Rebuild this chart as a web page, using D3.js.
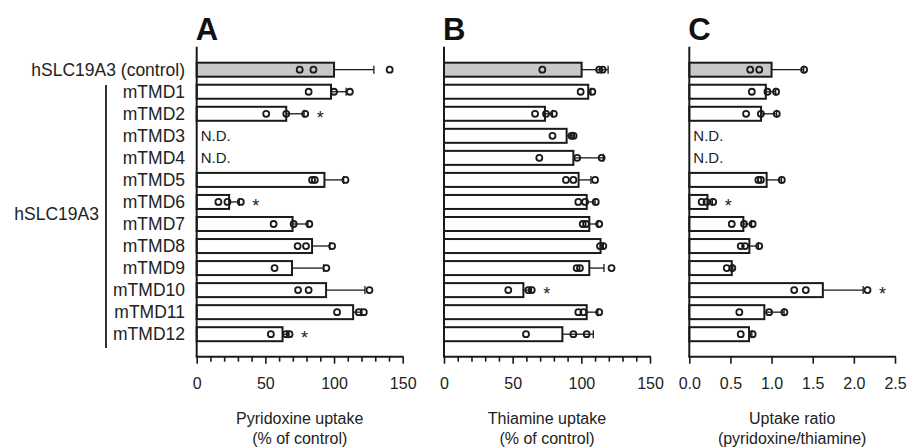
<!DOCTYPE html>
<html>
<head>
<meta charset="utf-8">
<script src="https://cdn.jsdelivr.net/npm/d3@7"></script>
<style>
  body { margin: 0; background: #fff; }
  svg { display: block; font-family: "Liberation Sans", Arial, sans-serif; }
</style>
</head>
<body>
<div id="chart"></div>
<script>
// rows, top to bottom
const rows = ["hSLC19A3 (control)", "mTMD1", "mTMD2", "mTMD3", "mTMD4", "mTMD5", "mTMD6",
  "mTMD7", "mTMD8", "mTMD9", "mTMD10", "mTMD11", "mTMD12"];

// A: pyridoxine uptake (% of control)
const pyrMean = [100, 97.8, 65.2, null, null, 93, 23.6, 69.8, 84, 69.4, 94.2, 113.9, 62.5];
const pyrErr = [29, 11, 13, null, null, 14, 7.4, 11.2, 13, 23, 28.3, 6, 4];
const pyrPts = [[75, 85, 140.5], [81.5, 100, 111.5], [50.6, 65.2, 79], [], [], [84, 86, 108.3],
  [15.8, 22.4, 32.1], [56, 70.6, 82], [73.5, 79.6, 98.6], [56.7, 94.4], [73.8, 81.5, 125.8],
  [102.2, 118, 121.7], [54, 65, 67.6]];
const pyrSig = ["mTMD2", "mTMD6", "mTMD12"];

// B: thiamine uptake (% of control)
const thiMean = [100.2, 105, 73.5, 89.3, 94.2, 98, 103.9, 105.8, 114, 105.8, 57.8, 103.9, 86.2];
const thiErr = [19.3, 2, 5.5, 4.7, 21.8, 9, 6.1, 6.2, 2, 10.7, 5.2, 8.1, 22.5];
const thiPts = [[71.6, 113, 115.5], [99.5, 108], [66.3, 74.3, 80], [79, 92.8, 94.4], [69.4, 97, 114.8],
  [88.8, 94.2, 110], [97.8, 102.7, 110.5], [101, 103.4, 113], [113.6, 116], [96.6, 99, 122],
  [46.8, 61.4, 63.9], [97.8, 101.5, 113], [59.7, 94.2, 103.9]];
const thiSig = ["mTMD10"];

// C: uptake ratio (pyridoxine/thiamine)
const ratioMean = [1.0, 0.93, 0.872, null, null, 0.94, 0.22, 0.657, 0.73, 0.516, 1.623, 0.912, 0.726];
const ratioErr = [0.39, 0.12, 0.19, null, null, 0.18, 0.06, 0.1, 0.11, 0.014, 0.49, 0.24, 0.034];
const ratioPts = [[0.74, 0.85, 1.395], [0.76, 0.95, 1.055], [0.69, 0.87, 1.063], [], [], [0.84, 0.87, 1.124],
  [0.15, 0.21, 0.29], [0.516, 0.665, 0.77], [0.625, 0.678, 0.85], [0.455, 0.523], [1.275, 1.416, 2.166],
  [0.608, 0.97, 1.156], [0.625, 0.77]];
const ratioSig = ["mTMD6", "mTMD10"];

const pctTicks = d3.range(0, 151, 10);
const ratioTicks = [0, 0.5, 1.0, 1.5, 2.0, 2.5];

const width = 908, height = 447;
const yTop = 46.7, yBase = 356.7;
const barH = 14;

const svg = d3.select("#chart").append("svg")
  .attr("width", width)
  .attr("height", height);

const y = d3.scalePoint()
  .domain(rows)
  .range([69.7, 334.2]);

const panels = [
  {letter: "A", mean: pyrMean, err: pyrErr, pts: pyrPts, sig: pyrSig, x0: 196.7, x1: 402.7,
   domain: [0, 150], ticks: pctTicks, major: d => d % 50 === 0, fmt: d => d % 50 === 0 ? d : "",
   title: ["Pyridoxine uptake", "(% of control)"]},
  {letter: "B", mean: thiMean, err: thiErr, pts: thiPts, sig: thiSig, x0: 444, x1: 650,
   domain: [0, 150], ticks: pctTicks, major: d => d % 50 === 0, fmt: d => d % 50 === 0 ? d : "",
   title: ["Thiamine uptake", "(% of control)"]},
  {letter: "C", mean: ratioMean, err: ratioErr, pts: ratioPts, sig: ratioSig, x0: 689.3, x1: 895,
   domain: [0, 2.5], ticks: ratioTicks, major: d => true, fmt: d3.format(".1f"),
   title: ["Uptake ratio", "(pyridoxine/thiamine)"]}
];

panels.forEach(p => {
  const x = d3.scaleLinear().domain(p.domain).range([p.x0, p.x1]);
  const g = svg.append("g");

  const data = rows.map((r, i) => ({row: r, i: i, mean: p.mean[i], err: p.err[i], pts: p.pts[i]}));
  const present = data.filter(d => d.mean !== null);

  // bars
  g.selectAll("rect.bar")
    .data(present)
    .enter()
    .append("rect")
      .attr("x", x(0))
      .attr("y", d => y(d.row) - barH / 2)
      .attr("width", d => x(d.mean) - x(0))
      .attr("height", barH)
      .attr("fill", d => d.i === 0 ? "#c8c8c8" : "#fff")
      .attr("stroke", "#1a1a1a")
      .attr("stroke-width", 2);

  // error bars
  g.selectAll("line.err")
    .data(present)
    .enter()
    .append("line")
      .attr("x1", d => x(d.mean))
      .attr("x2", d => x(d.mean + d.err))
      .attr("y1", d => y(d.row))
      .attr("y2", d => y(d.row))
      .attr("stroke", "#1a1a1a")
      .attr("stroke-width", 1.3);
  g.selectAll("line.cap")
    .data(present)
    .enter()
    .append("line")
      .attr("x1", d => x(d.mean + d.err))
      .attr("x2", d => x(d.mean + d.err))
      .attr("y1", d => y(d.row) - 4)
      .attr("y2", d => y(d.row) + 4)
      .attr("stroke", "#1a1a1a")
      .attr("stroke-width", 1.3);

  // individual points
  const pts = [];
  data.forEach(d => d.pts.forEach(v => pts.push({row: d.row, v: v})));
  g.selectAll("circle")
    .data(pts)
    .enter()
    .append("circle")
      .attr("cx", d => x(d.v))
      .attr("cy", d => y(d.row))
      .attr("r", 3)
      .attr("fill", "none")
      .attr("stroke", "#1a1a1a")
      .attr("stroke-width", 1.8);

  // N.D.
  g.selectAll("text.nd")
    .data(data.filter(d => d.mean === null))
    .enter()
    .append("text")
      .attr("x", x(0) + 4)
      .attr("y", d => y(d.row) + 5.5)
      .attr("font-size", 15)
      .attr("fill", "#222")
      .text("N.D.");

  // asterisks
  g.selectAll("text.sig")
    .data(data.filter(d => p.sig.includes(d.row)))
    .enter()
    .append("text")
      .attr("x", d => x(Math.max(d.mean + d.err, d3.max(d.pts))) + 15)
      .attr("y", d => y(d.row) + 10)
      .attr("text-anchor", "middle")
      .attr("font-size", 18)
      .attr("fill", "#222")
      .text("*");

  // axes
  const ax = g.append("g")
    .attr("transform", "translate(0," + yBase + ")")
    .call(d3.axisBottom(x).tickValues(p.ticks).tickFormat(p.fmt).tickSizeOuter(0));
  ax.select(".domain").remove();
  ax.selectAll(".tick line")
    .attr("y2", d => p.major(d) ? 7 : 5)
    .attr("stroke", "#1a1a1a")
    .attr("stroke-width", 1.6);
  ax.selectAll(".tick text")
    .attr("y", 32)
    .attr("dy", 0)
    .attr("font-size", 16)
    .attr("font-family", "\"Liberation Sans\", Arial, sans-serif")
    .attr("fill", "#222");

  g.append("line")
    .attr("x1", x(0) - 1).attr("x2", x(p.domain[1]) + 1)
    .attr("y1", yBase).attr("y2", yBase)
    .attr("stroke", "#1a1a1a").attr("stroke-width", 2);
  g.append("line")
    .attr("x1", x(0)).attr("x2", x(0))
    .attr("y1", yTop).attr("y2", yBase)
    .attr("stroke", "#1a1a1a").attr("stroke-width", 2);

  // panel letter
  g.append("text")
    .attr("x", x(0) - 1)
    .attr("y", 40)
    .attr("font-size", 31)
    .attr("font-weight", "bold")
    .attr("fill", "#111")
    .text(p.letter);

  // title
  const cx = (p.x0 + p.x1) / 2;
  p.title.forEach((t, k) => {
    g.append("text")
      .attr("x", cx)
      .attr("y", 424 + k * 20)
      .attr("text-anchor", "middle")
      .attr("font-size", 16)
      .attr("fill", "#222")
      .text(t);
  });
});

// row labels
svg.selectAll("text.row")
  .data(rows)
  .enter()
  .append("text")
    .attr("x", 185)
    .attr("y", d => y(d) + 6)
    .attr("text-anchor", "end")
    .attr("font-size", 17.5)
    .attr("fill", "#222")
    .text(d => d);

// group bracket
svg.append("line")
  .attr("x1", 106).attr("x2", 106)
  .attr("y1", 85).attr("y2", 348)
  .attr("stroke", "#1a1a1a").attr("stroke-width", 1.8);
svg.append("text")
  .attr("x", 99)
  .attr("y", y("mTMD6") + 18)
  .attr("text-anchor", "end")
  .attr("font-size", 17.5)
  .attr("fill", "#222")
  .text("hSLC19A3");
</script>
</body>
</html>
